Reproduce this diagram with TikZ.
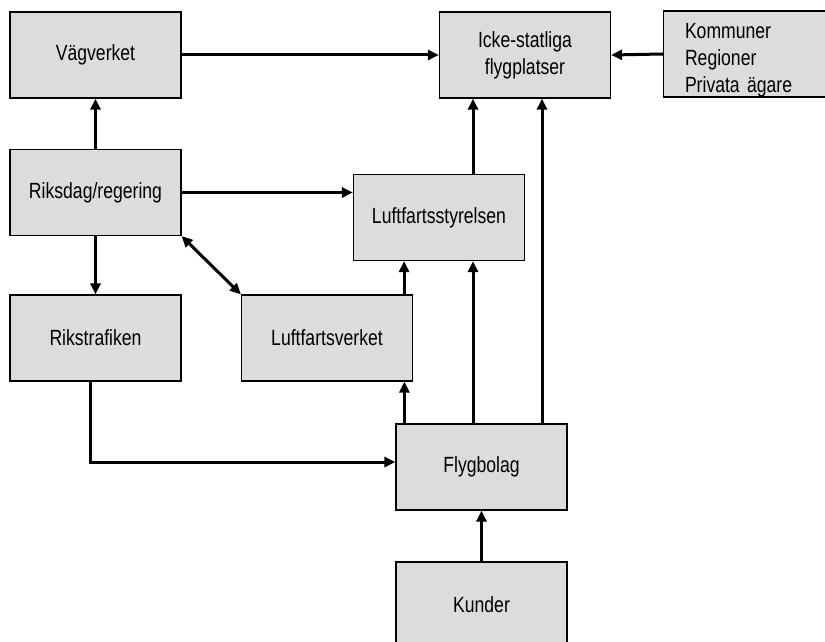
\documentclass[tikz,border=0pt]{standalone}
\usepackage{fontspec}
\setmainfont{Liberation Sans}[FakeStretch=0.8]
\usepackage{tikz}
\usetikzlibrary{positioning,arrows.meta}
\definecolor{boxgray}{HTML}{DCDCDC}

\begin{document}
\begin{tikzpicture}[x=1pt,y=-1pt,
	box/.style={draw=black,line width=1.2pt,fill=boxgray,minimum width=171pt,minimum height=86pt,inner sep=0pt,font=\fontsize{22}{27}\selectfont},
	arr/.style={line width=3pt,-{Triangle[length=11pt,width=10pt]}},
	darr/.style={line width=3pt,{Triangle[length=11pt,width=10pt]}-{Triangle[length=11pt,width=10pt]}}]
			\useasboundingbox (0,0) rectangle (825,642);
			\node [box] (vag) at (95.5,55) {Vägverket};
			\node [box,align=center] (icke) at (525,55) {Icke-statliga\\flygplatser};
			\node [box,align=left,text width=128pt] (komm) at (749,54) {\raisebox{-6pt}[\height][\depth]{\begin{tabular}{@{}l@{}}Kommuner\\Regioner\\Privata ägare\end{tabular}}};
			\node [box] (riks) at (95.5,192.5) {Riksdag/regering};
			\node [box] (lfs) at (439,217.5) {Luftfartsstyrelsen};
			\node [box] (rtraf) at (95.5,338) {Rikstrafiken};
			\node [box] (lfv) at (327,338) {Luftfartsverket};
			\node [box] (flyg) at (481.5,467) {Flygbolag};
			\node [box] (kund) at (481.5,605) {Kunder};
			\draw [arr] (vag.east) -- (icke.west);
			\draw [arr] (komm.west) -- (icke.east);
			\draw [arr] (riks.north) -- (vag.south);
			\draw [arr] (riks.south) -- (rtraf.north);
			\draw [arr] (riks.east) -- (riks.east -| lfs.west);
			\draw [darr] (riks.south east) -- (lfv.north west);
			\draw [arr] ([xshift=-9pt]lfv.north east) -- ([xshift=-9pt]lfv.north east |- lfs.south);
			\draw [arr] ([xshift=9pt]flyg.north west) -- ([xshift=9pt]flyg.north west |- lfv.south);
			\draw [arr] ([xshift=34pt]lfs.south |- flyg.north) -- ([xshift=34pt]lfs.south);
			\draw [arr] ([xshift=34pt]lfs.north) -- ([xshift=34pt]lfs.north |- icke.south);
			\draw [arr] ([xshift=17pt]icke.south |- flyg.north) -- ([xshift=17pt]icke.south);
			\draw [arr] (kund.north) -- (flyg.south);
			\draw [arr] ([xshift=-5pt]rtraf.south) |- ([yshift=5pt]flyg.west);
\end{tikzpicture}
\end{document}
